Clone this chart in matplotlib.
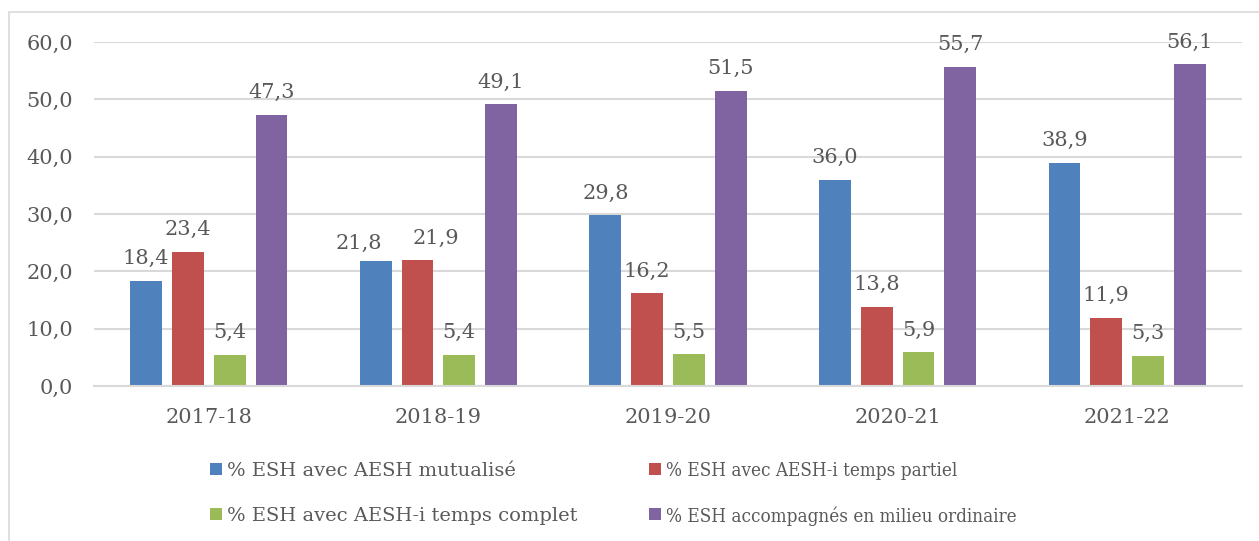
import matplotlib.pyplot as plt
import matplotlib.patches as mpatches
import numpy as np

# Data
years = ["2017-18", "2018-19", "2019-20", "2020-21", "2021-22"]
series_names = [
    "% ESH avec AESH mutualisé",
    "% ESH avec AESH-i temps partiel",
    "% ESH avec AESH-i temps complet",
    "% ESH accompagnés en milieu ordinaire",
]
mutualise = [18.4, 21.8, 29.8, 36.0, 38.9]
temps_partiel = [23.4, 21.9, 16.2, 13.8, 11.9]
temps_complet = [5.4, 5.4, 5.5, 5.9, 5.3]
milieu_ordinaire = [47.3, 49.1, 51.5, 55.7, 56.1]

series = [mutualise, temps_partiel, temps_complet, milieu_ordinaire]
colors = ["#4F81BD", "#C0504D", "#9BBB59", "#8064A2"]
text_color = "#595959"
grid_color = "#D9D9D9"

plt.rcParams["font.family"] = ["DejaVu Serif"]
fs = 15
fs_leg = 14

W, H = 1259, 541
fig = plt.figure(figsize=(W / 100, H / 100), dpi=100)

# outer chart frame
fig.patches.append(mpatches.Rectangle((9 / W, -0.01), 1.0, 1 - 12 / H + 0.01,
                                      transform=fig.transFigure, fill=False,
                                      edgecolor=grid_color, linewidth=1.2))

ax = fig.add_axes([94 / W, 1 - 386 / H, (1242 - 94) / W, (386 - 42) / H])

# labels pushed sideways where two values sit too close together
nudge = {(0, 1): (-12, 9), (1, 1): (13, 12)}

x = np.arange(len(years))
step = 0.182
width = 0.139
for i, (vals, c) in enumerate(zip(series, colors)):
    pos = x + (i - 1.5) * step
    ax.bar(pos, vals, width, color=c, zorder=3)
    for j, (px, v) in enumerate(zip(pos, vals)):
        dx, dy = nudge.get((i, j), (0, 12))
        ax.annotate(f"{v:.1f}".replace(".", ","), (px, v), xytext=(dx, dy),
                    textcoords="offset points", ha="center", va="baseline",
                    fontsize=fs, color=text_color, zorder=4)

ax.set_xlim(-0.5, len(years) - 0.5)
ax.set_ylim(0, 60)
ax.set_yticks(np.arange(0, 61, 10))
ax.set_yticklabels([f"{t:.1f}".replace(".", ",") for t in np.arange(0, 61, 10)])
ax.set_xticks(x)
ax.set_xticklabels(years)
ax.tick_params(axis="y", length=0, pad=15, labelsize=fs, labelcolor=text_color)
ax.tick_params(axis="x", length=0, pad=16, labelsize=fs, labelcolor=text_color)
ax.grid(axis="y", color=grid_color, linewidth=1.5, zorder=0)
for s in ["top", "right", "left"]:
    ax.spines[s].set_visible(False)
ax.spines["bottom"].set_color(grid_color)
ax.spines["bottom"].set_linewidth(1.5)
ax.spines["bottom"].set_zorder(3.5)

# legend, two columns by two rows (right column set narrower)
col_x = [210, 649]
row_y = [469, 514]
sq = 12
for i, (name, c) in enumerate(zip(series_names, colors)):
    cx = col_x[i % 2]
    cy = row_y[i // 2]
    fig.patches.append(mpatches.Rectangle((cx / W, 1 - (cy + sq / 2) / H), sq / W, sq / H,
                                          transform=fig.transFigure, facecolor=c,
                                          edgecolor="none"))
    fig.text((cx + sq + 5) / W, 1 - cy / H, name,
             fontsize=13.5 if i % 2 else fs_leg, color=text_color,
             ha="left", va="center_baseline",
             fontstretch="condensed" if i % 2 else "normal")

fig.savefig("out.png", dpi=100)
